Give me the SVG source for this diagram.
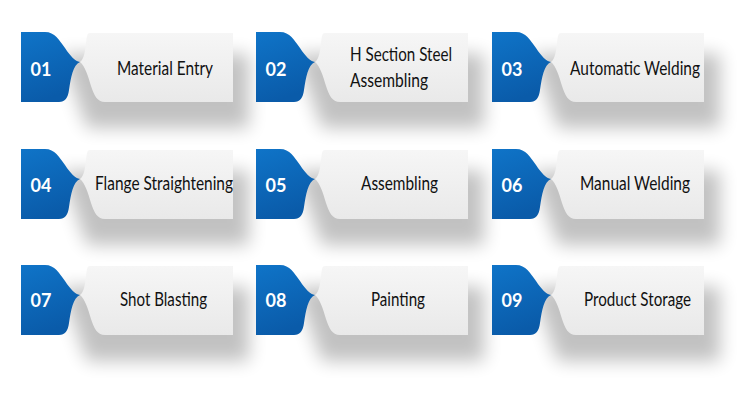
<svg xmlns="http://www.w3.org/2000/svg" width="750" height="400" viewBox="0 0 750 400">
<defs>
<linearGradient id="blue" x1="0" y1="0" x2="0.3" y2="1">
<stop offset="0" stop-color="#0f74c8"/>
<stop offset="1" stop-color="#0a5ba9"/>
</linearGradient>
<linearGradient id="gray" x1="0" y1="0" x2="0" y2="1">
<stop offset="0" stop-color="#f6f6f6"/>
<stop offset="1" stop-color="#e9e9e9"/>
</linearGradient>
<filter id="sh" x="-30%" y="-50%" width="160%" height="220%">
<feGaussianBlur stdDeviation="9"/>
</filter>
<path id="bluetab" d="M0,0 H24 C34,0 38,8 44,16 C50,25 54,29 59,30 C52,33 50,45 48,58 C47,66 44,70 38,70 H0 Z"/>
<path id="card" d="M69,1 H212 V70 H84 C76,70 73,63 70,54 C67,44 64,34 59,30 C63,27 64,20 65,11 C66,4 66,1 69,1 Z"/>
<g id="unit">
<path d="M40,22 H228 V96 H66 Z" fill="#000" opacity="0.24" filter="url(#sh)"/>
<use href="#card" fill="url(#gray)"/>
<use href="#bluetab" fill="url(#blue)"/>
</g>
</defs>
<style>
.num{font-family:Lato,"Open Sans",sans-serif;font-weight:bold;font-size:18px;fill:#fff;text-anchor:middle}
.lbl{font-family:Lato,"Open Sans",sans-serif;font-size:18.5px;fill:#111;text-anchor:middle}
.lft{text-anchor:start}
</style>
<rect width="750" height="400" fill="#ffffff"/>
<g id="n01" transform="translate(21,32)"><use href="#unit"/><text class="num" x="20" y="44">01</text><text class="lbl" x="144" y="43" textLength="96" lengthAdjust="spacingAndGlyphs">Material Entry</text></g>
<g id="n02" transform="translate(256,32)"><use href="#unit"/><text class="num" x="20" y="44">02</text><text class="lbl lft" x="94" y="29" textLength="102" lengthAdjust="spacingAndGlyphs">H Section Steel</text><text class="lbl lft" x="94" y="55" textLength="78" lengthAdjust="spacingAndGlyphs">Assembling</text></g>
<g id="n03" transform="translate(492,32)"><use href="#unit"/><text class="num" x="20" y="44">03</text><text class="lbl" x="143" y="43" textLength="130" lengthAdjust="spacingAndGlyphs">Automatic Welding</text></g>
<g id="n04" transform="translate(21,149)"><use href="#unit"/><text class="num" x="20" y="43">04</text><text class="lbl" x="143" y="41" textLength="138" lengthAdjust="spacingAndGlyphs">Flange Straightening</text></g>
<g id="n05" transform="translate(256,149)"><use href="#unit"/><text class="num" x="20" y="43">05</text><text class="lbl" x="143.5" y="41" textLength="77" lengthAdjust="spacingAndGlyphs">Assembling</text></g>
<g id="n06" transform="translate(492,149)"><use href="#unit"/><text class="num" x="20" y="43">06</text><text class="lbl" x="143" y="41" textLength="110" lengthAdjust="spacingAndGlyphs">Manual Welding</text></g>
<g id="n07" transform="translate(21,265)"><use href="#unit"/><text class="num" x="20" y="42">07</text><text class="lbl" x="142.5" y="41" textLength="87" lengthAdjust="spacingAndGlyphs">Shot Blasting</text></g>
<g id="n08" transform="translate(256,265)"><use href="#unit"/><text class="num" x="20" y="42">08</text><text class="lbl" x="142" y="41" textLength="54" lengthAdjust="spacingAndGlyphs">Painting</text></g>
<g id="n09" transform="translate(492,265)"><use href="#unit"/><text class="num" x="20" y="42">09</text><text class="lbl" x="145.5" y="41" textLength="107" lengthAdjust="spacingAndGlyphs">Product Storage</text></g>
<g id="connectors"/>
</svg>
